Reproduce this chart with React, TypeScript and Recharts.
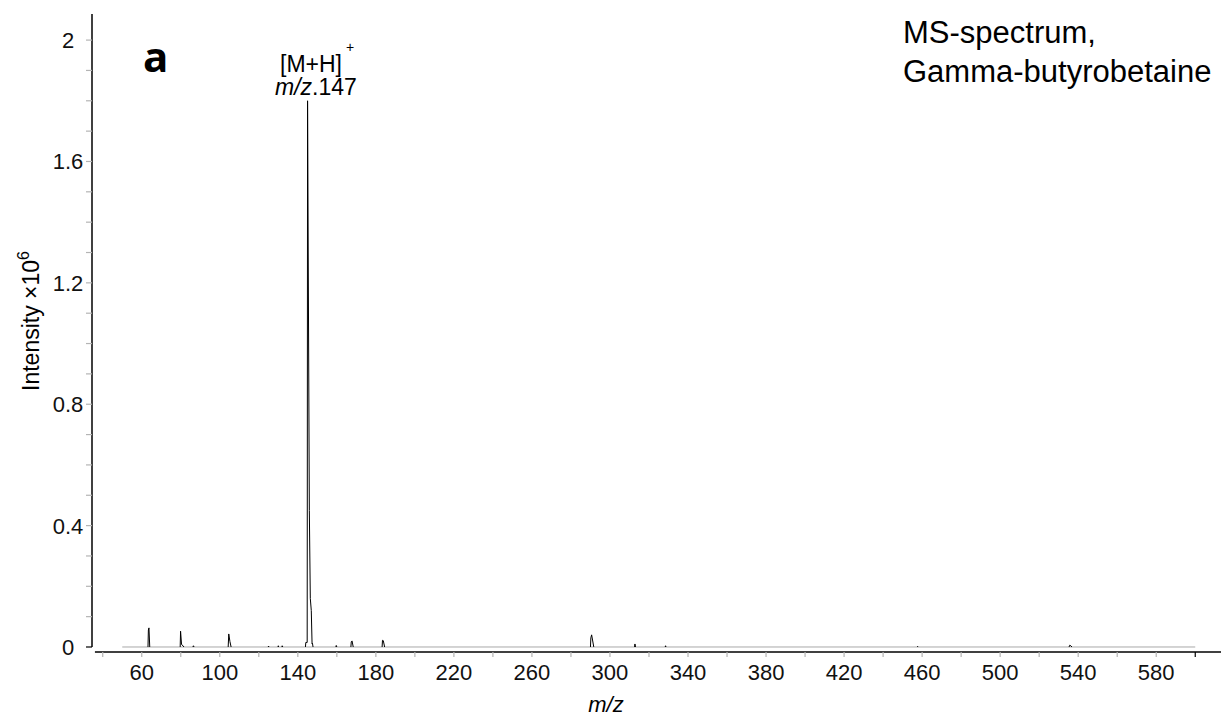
import React from 'react';
import { LineChart, Line, XAxis, YAxis, ReferenceLine } from 'recharts';

// axis ranges (m/z and intensity x10^6)
const xMin = 34.5;
const xMax = 613.2;
const yMin = -0.0165;
const yMax = 2.086;

// tick values
const xTicks = [40, 60, 80, 100, 120, 140, 160, 180, 200, 220, 240, 260, 280, 300, 320, 340, 360, 380, 400, 420, 440, 460, 480, 500, 520, 540, 560, 580, 600];
const xTickLabels = [60, 100, 140, 180, 220, 260, 300, 340, 380, 420, 460, 500, 540, 580];
const yTicks = [0, 0.1, 0.2, 0.3, 0.4, 0.5, 0.6, 0.7, 0.8, 0.9, 1.0, 1.1, 1.2, 1.3, 1.4, 1.5, 1.6, 1.7, 1.8, 1.9, 2.0];
const yTickLabels = ['0', '0.4', '0.8', '1.2', '1.6', '2'];

// acquisition baseline
const baseline = [
  { mz: 50, v: 0 },
  { mz: 600, v: 0 },
];

// centroid-ish peak profiles, separated by gaps
const peaks = [
  { mz: 63.2, v: 0 }, { mz: 63.4, v: 0.056 }, { mz: 63.7, v: 0.063 }, { mz: 64.1, v: 0 },
  { mz: 64.3, v: null },
  { mz: 79.7, v: 0 }, { mz: 79.9, v: 0.052 }, { mz: 80.4, v: 0.008 }, { mz: 81.2, v: 0.004 }, { mz: 81.6, v: 0 },
  { mz: 82.0, v: null },
  { mz: 86.2, v: 0 }, { mz: 86.5, v: 0.004 }, { mz: 86.8, v: 0 },
  { mz: 87.0, v: null },
  { mz: 104.3, v: 0 }, { mz: 104.6, v: 0.043 }, { mz: 105.2, v: 0.018 }, { mz: 105.8, v: 0 },
  { mz: 106.0, v: null },
  { mz: 124.8, v: 0 }, { mz: 125.0, v: 0.003 }, { mz: 125.2, v: 0 },
  { mz: 125.5, v: null },
  { mz: 129.8, v: 0 }, { mz: 130.0, v: 0.004 }, { mz: 130.2, v: 0 },
  { mz: 130.5, v: null },
  { mz: 131.8, v: 0 }, { mz: 132.0, v: 0.004 }, { mz: 132.3, v: 0 },
  { mz: 132.6, v: null },
  { mz: 143.9, v: 0 }, { mz: 144.1, v: 0.015 }, { mz: 144.8, v: 0.015 }, { mz: 145.0, v: 1.8 },
  { mz: 145.9, v: 0.45 }, { mz: 146.4, v: 0.16 }, { mz: 146.9, v: 0.12 }, { mz: 147.3, v: 0.01 },
  { mz: 147.5, v: 0.012 }, { mz: 147.8, v: 0 },
  { mz: 148.0, v: null },
  { mz: 159.5, v: 0 }, { mz: 159.7, v: 0.005 }, { mz: 160.0, v: 0 },
  { mz: 160.3, v: null },
  { mz: 167.2, v: 0 }, { mz: 167.4, v: 0.017 }, { mz: 167.8, v: 0.02 }, { mz: 168.4, v: 0 },
  { mz: 168.7, v: null },
  { mz: 183.2, v: 0 }, { mz: 183.4, v: 0.022 }, { mz: 183.8, v: 0.021 }, { mz: 184.5, v: 0 },
  { mz: 184.8, v: null },
  { mz: 290.0, v: 0 }, { mz: 290.2, v: 0.03 }, { mz: 290.6, v: 0.04 }, { mz: 291.7, v: 0 },
  { mz: 292.0, v: null },
  { mz: 312.6, v: 0 }, { mz: 312.8, v: 0.01 }, { mz: 313.1, v: 0 },
  { mz: 313.4, v: null },
  { mz: 328.3, v: 0 }, { mz: 328.5, v: 0.004 }, { mz: 328.7, v: 0 },
  { mz: 329.0, v: null },
  { mz: 457.5, v: 0 }, { mz: 457.7, v: 0.002 }, { mz: 457.9, v: 0 },
  { mz: 458.2, v: null },
  { mz: 535.3, v: 0 }, { mz: 535.7, v: 0.006 }, { mz: 536.2, v: 0.004 }, { mz: 536.8, v: 0 },
];

const FONT = '"Liberation Sans", Arial, sans-serif';

const XTick = (props: any) => {
  const { x, y, payload } = props;
  const val = payload.value;
  const last = val === xTicks[xTicks.length - 1];
  const labelled = xTickLabels.includes(val);
  return (
    <g>
      <line x1={x} x2={x} y1={y} y2={y + 5} stroke={last ? '#000' : '#b4b4b4'} strokeWidth={1.2} />
      {labelled && (
        <text x={x} y={y + 28} textAnchor="middle" fontSize={22} fontFamily={FONT} fill="#111">
          {val}
        </text>
      )}
    </g>
  );
};

const YTick = (props: any) => {
  const { x, y, payload } = props;
  const val = payload.value;
  const idx = Math.round(val * 10);
  const labelled = idx % 4 === 0;
  return (
    <g>
      <line x1={x - 6} x2={x} y1={y} y2={y} stroke={idx === 0 ? '#000' : '#b4b4b4'} strokeWidth={1.2} />
      {labelled && (
        <text x={x - 24} y={y + 8} textAnchor="middle" fontSize={22} fontFamily={FONT} fill="#111">
          {yTickLabels[idx / 4]}
        </text>
      )}
    </g>
  );
};

export default function App() {
  return (
    <div style={{ position: 'absolute', left: 0, top: 0, width: 1221, height: 718, background: '#fff' }}>
      <LineChart width={1221} height={718} margin={{ top: 14, right: 0, bottom: 0, left: 0 }}>
        <XAxis
          dataKey="mz"
          type="number"
          domain={[xMin, xMax]}
          allowDataOverflow
          ticks={xTicks}
          interval={0}
          axisLine={false}
          tickLine={false}
          tickSize={0}
          tickMargin={0}
          height={66}
          tick={<XTick />}
        />
        <YAxis
          type="number"
          domain={[yMin, yMax]}
          allowDataOverflow
          ticks={yTicks}
          interval={0}
          axisLine={false}
          tickLine={false}
          tickSize={0}
          tickMargin={0}
          width={92}
          tick={<YTick />}
        />
        <ReferenceLine
          segment={[{ x: xMin, y: 0 }, { x: xMin, y: yMax }]}
          stroke="#000"
          strokeWidth={1.5}
          ifOverflow="visible"
        />
        <ReferenceLine
          segment={[{ x: 36.0, y: yMin }, { x: xMax, y: yMin }]}
          stroke="#000"
          strokeWidth={1.5}
          ifOverflow="visible"
        />
        <Line
          data={baseline}
          dataKey="v"
          type="linear"
          stroke="#a8a8a8"
          strokeWidth={1}
          dot={false}
          activeDot={false}
          isAnimationActive={false}
        />
        <Line
          data={peaks}
          dataKey="v"
          type="linear"
          stroke="#000"
          strokeWidth={1}
          dot={false}
          activeDot={false}
          connectNulls={false}
          isAnimationActive={false}
        />
      </LineChart>
      <svg width={1221} height={718} style={{ position: 'absolute', left: 0, top: 0, pointerEvents: 'none' }}>
        <text x={143} y={72} fontFamily='"Open Sans", sans-serif' fontWeight={700} fontSize={42} fill="#000">a</text>
        <text x={903} y={43} fontFamily={FONT} fontSize={31} fill="#000">MS-spectrum,</text>
        <text x={903} y={82} fontFamily={FONT} fontSize={31} fill="#000">Gamma-butyrobetaine</text>
        <text x={280} y={72} fontFamily={FONT} fontSize={23} fill="#000">[M+H]</text>
        <text x={346} y={52} fontFamily={FONT} fontSize={14} fill="#000">+</text>
        <text x={275} y={95} fontFamily={FONT} fontSize={23} fill="#000">
          <tspan fontStyle="italic">m/z</tspan>.147
        </text>
        <text
          x={39}
          y={321}
          transform="rotate(-90 39 321)"
          textAnchor="middle"
          fontFamily={FONT}
          fontSize={23}
          fill="#000"
        >
          Intensity ×10<tspan dy={-10} fontSize={16}>6</tspan>
        </text>
        <text x={606} y={712} textAnchor="middle" fontFamily={FONT} fontStyle="italic" fontSize={22} fill="#000">m/z</text>
      </svg>
    </div>
  );
}
